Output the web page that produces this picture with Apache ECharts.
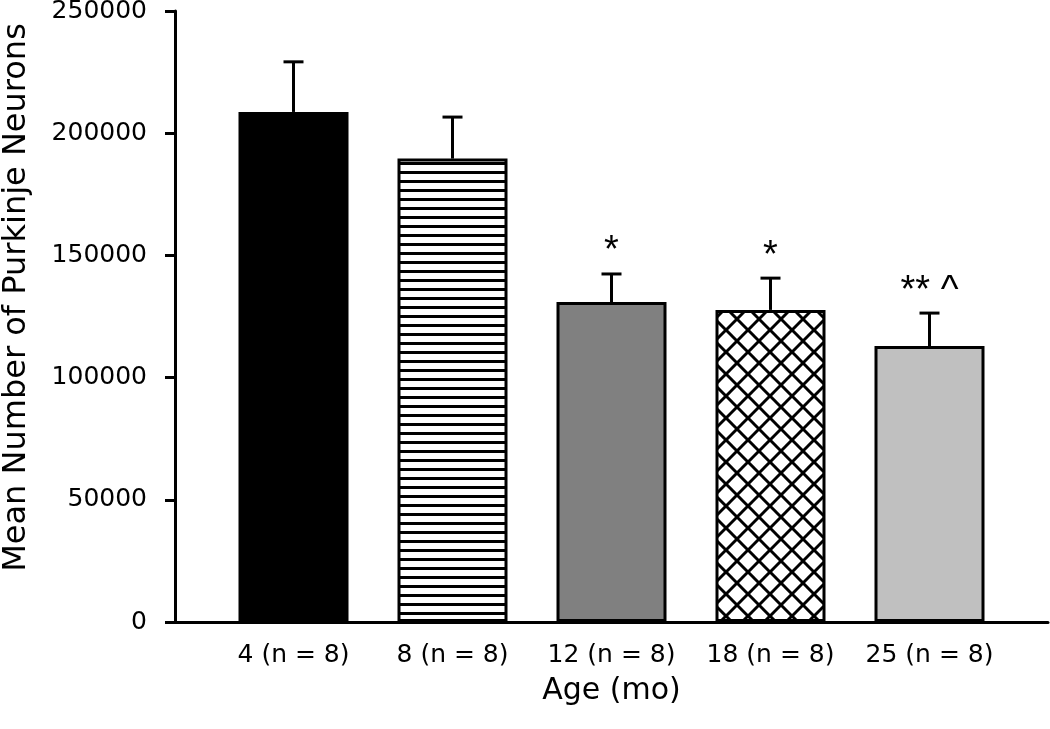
<!DOCTYPE html>
<html>
<head>
<meta charset="utf-8">
<script src="https://cdn.jsdelivr.net/npm/echarts@6/dist/echarts.min.js"></script>
<style>
  html, body { margin: 0; padding: 0; background: #fff; }
  #main { width: 1050px; height: 729px; }
</style>
</head>
<body>
<div id="main"></div>
<script>
// data
const ages = ['4 (n = 8)', '8 (n = 8)', '12 (n = 8)', '18 (n = 8)', '25 (n = 8)'];
const means = [208700, 189600, 130900, 127700, 112900];
const sems = [20500, 17000, 11500, 13000, 13500];
const marks = ['', '', '*', '*', '** ^'];
const yTicks = { min: 0, max: 250000, interval: 50000 };

// fill patterns
function stripes() {
  const c = document.createElement('canvas');
  c.width = 10; c.height = 9;
  const g = c.getContext('2d');
  g.fillStyle = '#fff'; g.fillRect(0, 0, 10, 9);
  g.fillStyle = '#000'; g.fillRect(0, 0, 10, 3);
  return c;
}
function crosshatch() {
  const s = 22;
  const c = document.createElement('canvas');
  c.width = s; c.height = s;
  const g = c.getContext('2d');
  g.fillStyle = '#fff'; g.fillRect(0, 0, s, s);
  g.strokeStyle = '#000'; g.lineWidth = 3;
  for (const o of [-s, 0, s]) {
    g.beginPath(); g.moveTo(o - 2, -2); g.lineTo(o + s + 2, s + 2); g.stroke();
    g.beginPath(); g.moveTo(o + s + 2, -2); g.lineTo(o - 2, s + 2); g.stroke();
  }
  return c;
}

const fills = [
  '#000000',
  { image: stripes(), repeat: 'repeat' },
  '#808080',
  { image: crosshatch(), repeat: 'repeat' },
  '#c0c0c0'
];

const font = 'DejaVu Sans';
const chart = echarts.init(document.getElementById('main'));

chart.setOption({
  animation: false,
  backgroundColor: '#fff',
  grid: [
    { left: 175, right: 2, top: 11, bottom: 107, containLabel: false, outerBoundsMode: 'none' },
    { left: 214, right: 41, top: 11, bottom: 107, containLabel: false, outerBoundsMode: 'none' }
  ],
  xAxis: [
    {
      gridIndex: 0, type: 'value', min: 0, max: 1,
      axisLine: { show: true, lineStyle: { color: '#000', width: 3 } },
      axisTick: { show: false }, axisLabel: { show: false }, splitLine: { show: false }
    },
    {
      gridIndex: 1, type: 'category', data: ages,
      axisLine: { show: false }, axisTick: { show: false },
      axisLabel: { interval: 0, margin: 21, color: '#000', fontSize: 25, fontFamily: font },
      name: 'Age (mo)', nameLocation: 'middle', nameGap: 54,
      nameTextStyle: { color: '#000', fontSize: 30, fontFamily: font }
    }
  ],
  yAxis: [
    {
      gridIndex: 0, type: 'value', min: yTicks.min, max: yTicks.max, interval: yTicks.interval,
      axisLine: { show: true, lineStyle: { color: '#000', width: 3 } },
      axisTick: { show: true, inside: false, length: 10, lineStyle: { color: '#000', width: 3 } },
      axisLabel: { margin: 28, color: '#000', fontSize: 25, fontFamily: font, formatter: v => String(v) },
      splitLine: { show: false },
      name: 'Mean Number of Purkinje Neurons', nameLocation: 'middle', nameGap: 142,
      nameTextStyle: { color: '#000', fontSize: 32, fontFamily: font, padding: [0, 0, 0, 38] }
    },
    {
      gridIndex: 1, type: 'value', min: yTicks.min, max: yTicks.max, show: false
    }
  ],
  series: [
    {
      type: 'bar', xAxisIndex: 1, yAxisIndex: 1, barWidth: 110,
      data: means.map((v, i) => ({
        value: v,
        itemStyle: { color: fills[i], borderColor: '#000', borderWidth: 3 }
      }))
    },
    {
      type: 'custom', xAxisIndex: 1, yAxisIndex: 1, z: 5,
      data: means.map((v, i) => [i, v, v + sems[i]]),
      renderItem: function (params, api) {
        const i = api.value(0);
        const base = api.coord([i, api.value(1)]);
        const top = api.coord([i, api.value(2)]);
        const style = { stroke: '#000', lineWidth: 3 };
        const kids = [
          { type: 'line', shape: { x1: base[0], y1: base[1], x2: top[0], y2: top[1] }, style: style },
          { type: 'line', shape: { x1: top[0] - 10, y1: top[1], x2: top[0] + 10, y2: top[1] }, style: style }
        ];
        if (marks[i]) {
          kids.push({
            type: 'text',
            style: {
              text: marks[i], x: top[0], y: top[1] - 22,
              align: 'center', verticalAlign: 'middle',
              fill: '#000', font: '38px "Liberation Sans", Arial, sans-serif'
            }
          });
        }
        return { type: 'group', children: kids };
      }
    }
  ]
});
</script>
</body>
</html>
